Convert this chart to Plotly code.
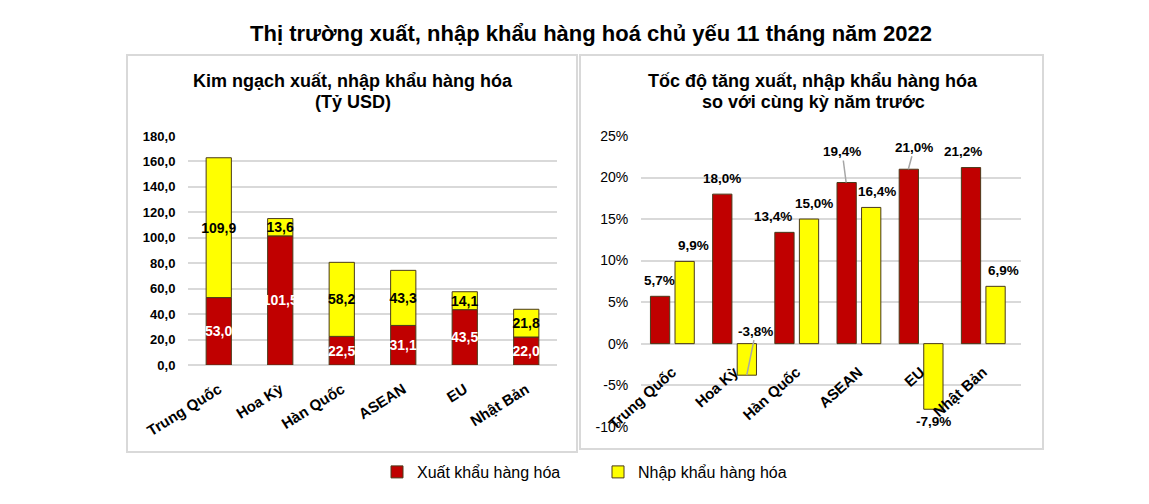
import plotly.graph_objects as go

categories = ["Trung Quốc", "Hoa Kỳ", "Hàn Quốc", "ASEAN", "EU", "Nhật Bản"]
export_value = [53.0, 101.5, 22.5, 31.1, 43.5, 22.0]
import_value = [109.9, 13.6, 58.2, 43.3, 14.1, 21.8]
export_growth = [5.7, 18.0, 13.4, 19.4, 21.0, 21.2]
import_growth = [9.9, -3.8, 15.0, 16.4, -7.9, 6.9]

left_ticks = [0, 20, 40, 60, 80, 100, 120, 140, 160, 180]
right_ticks = [-10, -5, 0, 5, 10, 15, 20, 25]
right_ticktext = ["-10%", "-5%", "0%", "5%", "10%", "15%", "20%", "25%"]

series_names = ["Xuất khẩu hàng hóa", "Nhập khẩu hàng hóa"]
title_main = "Thị trường xuất, nhập khẩu hàng hoá chủ yếu 11 tháng năm 2022"
title_left = ["Kim ngạch xuất, nhập khẩu hàng hóa", "(Tỷ USD)"]
title_right = ["Tốc độ tăng xuất, nhập khẩu hàng hóa", "so với cùng kỳ năm trước"]

# label styling (offsets in px): leader-line labels and small nudges
leader_labels = {("export", 3): (-4, -31), ("export", 4): (6, -22), ("import", 1): (9, -44)}
label_nudge = {("import", 0): 9, ("export", 2): -11, ("import", 2): 5,
               ("import", 3): 6, ("export", 5): -8, ("import", 5): 8}

RED = "#C00000"
YEL = "#FFFF00"
GRID = "#d9d9d9"
OUTLINE = "#4a3a1a"
FONT = "Liberation Sans, Arial"
W, H = 1149, 504


def fmt(v, suffix=""):
    return f"{v:.1f}".replace(".", ",") + suffix


def px_x(p):
    return p / W


def px_y(p):
    return 1 - p / H


fig = go.Figure()

# Left chart: stacked bars
fig.add_trace(go.Bar(
    x=categories, y=export_value, name=series_names[0],
    marker=dict(color=RED, line=dict(color=OUTLINE, width=1)),
    width=0.41, offset=-0.205,
    text=[fmt(v) for v in export_value], textposition="inside",
    insidetextanchor="middle", constraintext="none", textangle=0,
    textfont=dict(color="white", size=14, family=FONT, weight="bold"),
    xaxis="x", yaxis="y", legendgroup="e", hoverinfo="skip",
))
fig.add_trace(go.Bar(
    x=categories, y=import_value, base=export_value, name=series_names[1],
    marker=dict(color=YEL, line=dict(color=OUTLINE, width=1)),
    width=0.41, offset=-0.205,
    text=[fmt(v) for v in import_value], textposition="inside",
    insidetextanchor="middle", constraintext="none", textangle=0,
    textfont=dict(color="black", size=14, family=FONT, weight="bold"),
    xaxis="x", yaxis="y", legendgroup="i", hoverinfo="skip",
))

# Right chart: grouped bars
fig.add_trace(go.Bar(
    x=categories, y=export_growth, name=series_names[0], showlegend=False,
    marker=dict(color=RED, line=dict(color=OUTLINE, width=1)),
    width=0.31, offset=-0.348,
    xaxis="x2", yaxis="y2", legendgroup="e", hoverinfo="skip",
))
fig.add_trace(go.Bar(
    x=categories, y=import_growth, name=series_names[1], showlegend=False,
    marker=dict(color=YEL, line=dict(color=OUTLINE, width=1)),
    width=0.31, offset=0.047,
    xaxis="x2", yaxis="y2", legendgroup="i", hoverinfo="skip",
))

annotations = []
lab_font = dict(size=13.5, family=FONT, color="black", weight="bold")
for s, vals, bshift in (("export", export_growth, -12.5), ("import", import_growth, 12.5)):
    for i, v in enumerate(vals):
        key = (s, i)
        if key in leader_labels:
            ax, ay = leader_labels[key]
            annotations.append(dict(
                x=categories[i], y=v, xref="x2", yref="y2", xshift=bshift,
                text=fmt(v, "%"), showarrow=True, arrowhead=0, arrowwidth=1.5,
                arrowcolor="#a6a6a6", ax=ax, ay=ay, standoff=0, font=lab_font,
            ))
        else:
            annotations.append(dict(
                x=categories[i], y=v, xref="x2", yref="y2",
                xshift=bshift + label_nudge.get(key, 0),
                yshift=16 if v >= 0 else -12,
                text=fmt(v, "%"), showarrow=False, xanchor="center",
                yanchor="middle", font=lab_font,
            ))

for cx, lines in ((353, title_left), (813, title_right)):
    for k, line in enumerate(lines):
        annotations.append(dict(
            x=px_x(cx), y=px_y(81 + 21 * k), xref="paper", yref="paper",
            showarrow=False, text=line, xanchor="center", yanchor="middle",
            font=dict(size=18, family=FONT, color="black", weight="bold"),
        ))

shapes = [
    dict(type="rect", xref="paper", yref="paper", x0=px_x(127), x1=px_x(577),
         y0=px_y(452), y1=px_y(55), line=dict(color=GRID, width=2), layer="below"),
    dict(type="rect", xref="paper", yref="paper", x0=px_x(580), x1=px_x(1043),
         y0=px_y(449), y1=px_y(55), line=dict(color=GRID, width=2), layer="below"),
]

ydom = [px_y(365), px_y(136)]
ydom2 = [px_y(426.7), px_y(136)]
rng2 = [-10, 25]
zero_pos = ydom2[0] + (0 - rng2[0]) / (rng2[1] - rng2[0]) * (ydom2[1] - ydom2[0])

fig.update_layout(
    width=W, height=H, margin=dict(l=0, r=0, t=0, b=0, autoexpand=False),
    paper_bgcolor="white", plot_bgcolor="white",
    barmode="overlay", separators=",.",
    font=dict(family=FONT, color="black"),
    title=dict(text=title_main, x=px_x(591), xanchor="center", y=px_y(33),
               yanchor="middle", yref="container", automargin=False,
               font=dict(size=22, family=FONT, color="black", weight="bold")),
    xaxis=dict(domain=[px_x(188), px_x(557)], anchor="y", tickangle=-32,
               tickfont=dict(size=15, family=FONT, weight="bold"),
               ticks="outside", ticklen=9, tickcolor="rgba(0,0,0,0)",
               showgrid=False, showline=False, automargin=False),
    yaxis=dict(domain=ydom, range=[0, 180], tickvals=left_ticks, tickformat=".1f",
               tickfont=dict(size=13, family=FONT, weight="bold"),
               ticks="outside", ticklen=9, tickcolor="rgba(0,0,0,0)",
               gridcolor=GRID, gridwidth=2, zeroline=True, zerolinecolor=GRID,
               zerolinewidth=2, showline=False, automargin=False),
    xaxis2=dict(domain=[px_x(641), px_x(1021)], anchor="free", position=zero_pos,
                tickangle=-42, tickfont=dict(size=15, family=FONT, weight="bold"),
                ticks="outside", ticklen=13, tickcolor="rgba(0,0,0,0)",
                showgrid=False, showline=False, automargin=False),
    yaxis2=dict(domain=ydom2, range=rng2, anchor="x2", tickvals=right_ticks,
                ticktext=right_ticktext, tickfont=dict(size=14, family=FONT),
                ticks="outside", ticklen=9, tickcolor="rgba(0,0,0,0)",
                gridcolor=GRID, gridwidth=2, zeroline=True, zerolinecolor=GRID,
                zerolinewidth=2, showline=False, automargin=False),
    legend=dict(orientation="h", x=px_x(377), y=px_y(472), xanchor="left",
                yanchor="middle", font=dict(size=16, family=FONT),
                entrywidth=176, entrywidthmode="pixels", traceorder="normal",
                bgcolor="rgba(0,0,0,0)"),
    annotations=annotations, shapes=shapes, showlegend=True,
)

fig.write_html("out.html")
